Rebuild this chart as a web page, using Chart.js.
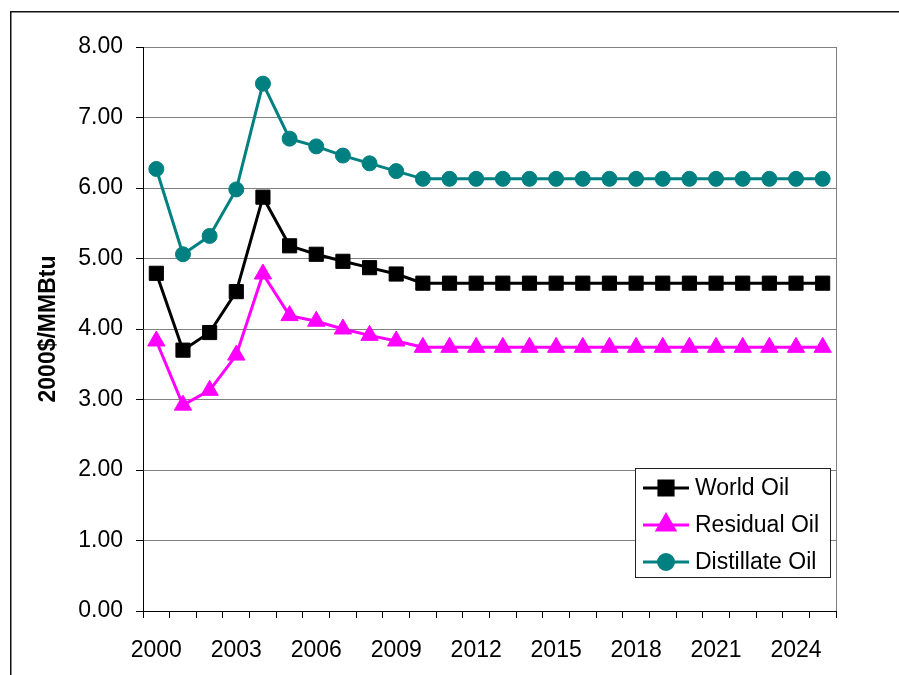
<!DOCTYPE html>
<html>
<head>
<meta charset="utf-8">
<script src="https://cdn.jsdelivr.net/npm/chart.js@4.4.1/dist/chart.umd.min.js"></script>
<style>
  html, body { margin: 0; padding: 0; background: #fff; }
  #wrap { width: 899px; height: 675px; position: relative; }
</style>
</head>
<body>
<div id="wrap"><canvas id="grafico"></canvas></div>
<script>
// Años y precios (2000$/MMBtu)
const anios = ['2000', '2001', '2002', '2003', '2004', '2005', '2006', '2007', '2008',
  '2009', '2010', '2011', '2012', '2013', '2014', '2015', '2016', '2017', '2018',
  '2019', '2020', '2021', '2022', '2023', '2024', '2025'];

const worldOil = [4.79, 3.70, 3.95, 4.53, 5.87, 5.18, 5.06, 4.96, 4.87, 4.78,
  4.65, 4.65, 4.65, 4.65, 4.65, 4.65, 4.65, 4.65, 4.65, 4.65, 4.65, 4.65, 4.65, 4.65, 4.65, 4.65];

const residualOil = [3.83, 2.92, 3.13, 3.63, 4.78, 4.19, 4.11, 4.00, 3.91, 3.83,
  3.74, 3.74, 3.74, 3.74, 3.74, 3.74, 3.74, 3.74, 3.74, 3.74, 3.74, 3.74, 3.74, 3.74, 3.74, 3.74];

const distillateOil = [6.27, 5.06, 5.32, 5.98, 7.48, 6.70, 6.59, 6.46, 6.35, 6.24,
  6.13, 6.13, 6.13, 6.13, 6.13, 6.13, 6.13, 6.13, 6.13, 6.13, 6.13, 6.13, 6.13, 6.13, 6.13, 6.13];

const nombres = ['World Oil', 'Residual Oil', 'Distillate Oil'];
const ticksY = [0, 1, 2, 3, 4, 5, 6, 7, 8];

const fuente = "'Liberation Sans', Arial, sans-serif";

// Marco exterior y borde gris derecho del área de trazado
const marco = {
  id: 'marco',
  beforeDraw(chart) {
    const ctx = chart.ctx;
    ctx.save();
    ctx.strokeStyle = '#111';
    ctx.lineWidth = 1.5;
    ctx.beginPath();
    ctx.moveTo(10.75, 700);
    ctx.lineTo(10.75, 11.75);
    ctx.lineTo(950, 11.75);
    ctx.stroke();
    ctx.restore();
  },
  beforeDatasetsDraw(chart) {
    const a = chart.chartArea;
    const ctx = chart.ctx;
    ctx.save();
    ctx.strokeStyle = '#808080';
    ctx.lineWidth = 1;
    ctx.beginPath();
    ctx.moveTo(Math.round(a.right) + 0.5, a.top);
    ctx.lineTo(Math.round(a.right) + 0.5, a.bottom);
    ctx.stroke();
    ctx.restore();
  }
};

// Leyenda dibujada dentro del área del gráfico
const leyenda = {
  id: 'leyenda',
  afterDatasetsDraw(chart) {
    const ctx = chart.ctx;
    const x0 = 635, y0 = 468, w = 195, h = 109;
    ctx.save();
    ctx.fillStyle = '#fff';
    ctx.fillRect(x0, y0, w, h);
    ctx.strokeStyle = '#222';
    ctx.lineWidth = 1;
    ctx.strokeRect(x0 + 0.5, y0 + 0.5, w, h);
    chart.data.datasets.forEach(function (ds, i) {
      const y = y0 + 20 + i * 37;
      ctx.strokeStyle = ds.borderColor;
      ctx.lineWidth = ds.borderWidth;
      ctx.beginPath();
      ctx.moveTo(x0 + 8, y);
      ctx.lineTo(x0 + 54, y);
      ctx.stroke();
      ctx.fillStyle = ds.pointBackgroundColor;
      ctx.strokeStyle = ds.pointBorderColor;
      Chart.helpers.drawPoint(ctx, {
        pointStyle: ds.pointStyle,
        radius: ds.pointRadius,
        borderWidth: ds.pointBorderWidth,
        rotation: 0
      }, x0 + 31, y);
      ctx.fillStyle = '#000';
      ctx.font = '23px ' + fuente;
      ctx.textAlign = 'left';
      ctx.textBaseline = 'middle';
      ctx.fillText(ds.label, x0 + 60, y + 1);
    });
    ctx.restore();
  }
};

const ctx = document.getElementById('grafico').getContext('2d');
new Chart(ctx, {
  type: 'line',
  data: {
    labels: anios,
    datasets: [
      {
        label: nombres[0],
        data: worldOil,
        borderColor: '#000000',
        borderWidth: 3,
        pointStyle: 'rect',
        pointRadius: 10,
        pointBackgroundColor: '#000000',
        pointBorderColor: '#000000',
        pointBorderWidth: 1,
        tension: 0
      },
      {
        label: nombres[1],
        data: residualOil,
        borderColor: '#ff00ff',
        borderWidth: 3,
        pointStyle: 'triangle',
        pointRadius: 10,
        pointBackgroundColor: '#ff00ff',
        pointBorderColor: '#ff00ff',
        pointBorderWidth: 1,
        tension: 0
      },
      {
        label: nombres[2],
        data: distillateOil,
        borderColor: '#008080',
        borderWidth: 3,
        pointStyle: 'circle',
        pointRadius: 7.5,
        pointBackgroundColor: '#008080',
        pointBorderColor: '#008080',
        pointBorderWidth: 1,
        tension: 0
      }
    ]
  },
  options: {
    responsive: true,
    maintainAspectRatio: false,
    animation: false,
    events: [],
    layout: { padding: { left: 10, top: 47, right: 63, bottom: 0 } },
    plugins: {
      legend: { display: false },
      tooltip: { enabled: false }
    },
    scales: {
      x: {
        type: 'category',
        offset: true,
        afterFit(scale) { scale.height = 64; },
        grid: {
          offset: true,
          drawOnChartArea: false,
          drawTicks: true,
          tickLength: 7,
          tickColor: '#000',
          lineWidth: 1
        },
        border: { color: '#000', width: 1 },
        ticks: {
          autoSkip: false,
          maxRotation: 0,
          padding: 19,
          color: '#000',
          font: { family: fuente, size: 23 },
          callback: function (v, i) { return i % 3 === 0 ? anios[i] : ''; }
        }
      },
      y: {
        min: ticksY[0],
        max: ticksY[ticksY.length - 1],
        afterFit(scale) { scale.width = 133; },
        afterBuildTicks(scale) { scale.ticks = ticksY.map(v => ({ value: v })); },
        grid: {
          color: '#808080',
          lineWidth: 1,
          tickLength: 7,
          tickColor: '#000'
        },
        border: { color: '#000', width: 1 },
        ticks: {
          padding: 13,
          color: '#000',
          font: { family: fuente, size: 23 },
          callback: function (v) { return Number(v).toFixed(2); }
        },
        title: {
          display: true,
          text: '2000$/MMBtu',
          color: '#000',
          font: { family: fuente, size: 23, weight: 'bold' },
          padding: { top: 25, bottom: 0 }
        }
      }
    }
  },
  plugins: [marco, leyenda]
});
</script>
</body>
</html>
